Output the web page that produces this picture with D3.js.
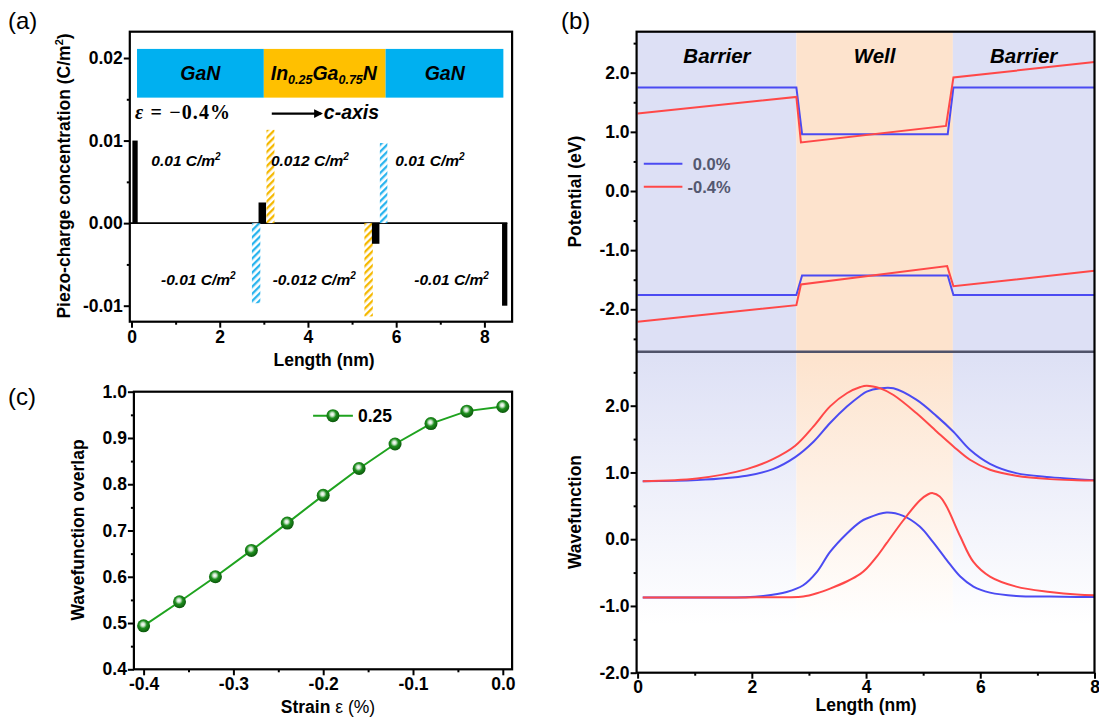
<!DOCTYPE html>
<html>
<head>
<meta charset="utf-8">
<script src="https://cdn.jsdelivr.net/npm/d3@7"></script>
<style>
  body { margin: 0; background: #fff; }
  svg { display: block; font-family: Arial, "Liberation Sans", sans-serif; }
</style>
</head>
<body>
<svg id="fig" width="1099" height="720"></svg>
<script>
// ---- panel (a): piezo charge ----
const layerNames = ["GaN", "InGaN", "GaN"];
const layerEdges = [0.125, 3.0, 5.76, 8.43];
const layerColors = ["#00b0f0", "#ffc000", "#00b0f0"];
const sheetX0 = [0.02, 2.88, 5.45, 8.40];
const sheetX1 = [0.14, 3.05, 5.62, 8.52];
const sheetQ = [0.01, 0.0025, -0.0025, -0.01];
const hatchX0 = [3.06, 5.63, 2.73, 5.28];
const hatchX1 = [3.24, 5.80, 2.92, 5.47];
const hatchQ = [0.0113, 0.0097, -0.0097, -0.0113];
const hatchKind = ["hOrange", "hBlue", "hBlue", "hOrange"];
const chargeText = ["0.01", "0.012", "0.01", "-0.01", "-0.012", "-0.01"];
const chargeTextX = [0.45, 3.16, 5.98, 0.67, 3.2, 6.41];
const chargeTextY = [0.0069, 0.0069, 0.0069, -0.0075, -0.0075, -0.0075];

// ---- panel (b): potential + wavefunctions ----
const wellX = [2.78, 5.52];
const cbX0 = [0, 2.78, 2.88, 5.43, 5.53, 8];
const cbY0 = [1.75, 1.75, 0.96, 0.96, 1.75, 1.75];
const cbX4 = [0, 2.78, 2.86, 5.40, 5.53, 8];
const cbY4 = [1.31, 1.59, 0.82, 1.10, 1.92, 2.18];
const vbX0 = [0, 2.78, 2.88, 5.43, 5.53, 8];
const vbY0 = [-1.76, -1.76, -1.43, -1.43, -1.76, -1.76];
const vbX4 = [0, 2.78, 2.86, 5.42, 5.53, 8];
const vbY4 = [-2.21, -1.93, -1.58, -1.27, -1.61, -1.35];

const waveUpX = [0.09, 1.04, 1.91, 2.37, 2.76, 3.08, 3.37, 3.67, 3.90, 4.01, 4.25, 4.48, 4.88, 5.24, 5.53, 5.82, 6.17, 6.63, 7.22, 7.69, 8.0];
const waveUpBlue = [0.87, 0.885, 0.95, 1.05, 1.23, 1.46, 1.74, 1.99, 2.15, 2.21, 2.26, 2.26, 2.09, 1.84, 1.61, 1.34, 1.13, 0.99, 0.93, 0.9, 0.885];
const waveUpRed = [0.87, 0.91, 1.05, 1.2, 1.40, 1.69, 1.99, 2.19, 2.28, 2.30, 2.26, 2.16, 1.89, 1.61, 1.39, 1.19, 1.04, 0.95, 0.9, 0.885, 0.88];
const waveLowBX = [0.09, 0.92, 1.89, 2.20, 2.61, 2.90, 3.14, 3.37, 3.67, 3.90, 4.01, 4.36, 4.65, 4.94, 5.17, 5.41, 5.65, 5.88, 6.17, 6.63, 7.22, 7.69, 8.0];
const waveLowBlue = [-0.873, -0.873, -0.87, -0.85, -0.79, -0.69, -0.49, -0.19, 0.09, 0.26, 0.31, 0.40, 0.35, 0.19, -0.04, -0.31, -0.56, -0.71, -0.80, -0.85, -0.86, -0.865, -0.865];
const waveLowRX = [0.09, 0.92, 1.89, 2.20, 2.61, 2.90, 3.14, 3.37, 3.67, 3.90, 4.01, 4.18, 4.36, 4.65, 4.94, 5.08, 5.17, 5.29, 5.41, 5.65, 5.88, 6.17, 6.63, 7.22, 7.69, 8.0];
const waveLowRed = [-0.873, -0.873, -0.873, -0.87, -0.87, -0.86, -0.81, -0.74, -0.63, -0.52, -0.44, -0.27, -0.06, 0.28, 0.58, 0.67, 0.69, 0.64, 0.49, 0.04, -0.34, -0.56, -0.71, -0.79, -0.83, -0.84];

// ---- panel (c): overlap vs strain ----
const strain = [-0.40, -0.36, -0.32, -0.28, -0.24, -0.20, -0.16, -0.12, -0.08, -0.04, 0.00];
const overlap = [0.494, 0.546, 0.600, 0.657, 0.716, 0.776, 0.834, 0.887, 0.931, 0.958, 0.968];

const BLUE = "#4b4bf2", RED = "#ff4848", GREEN = "#1fa31f";
const svg = d3.select("#fig");
const defs = svg.append("defs");

function hatch(id, color) {
  const p = defs.append("pattern").attr("id", id)
    .attr("patternUnits", "userSpaceOnUse")
    .attr("width", 5).attr("height", 5)
    .attr("patternTransform", "rotate(45)");
  p.append("rect").attr("width", 5).attr("height", 5).attr("fill", "#fff");
  p.append("rect").attr("width", 2.3).attr("height", 5).attr("fill", color);
}
hatch("hOrange", "#f5b800");
hatch("hBlue", "#2ab4ee");

function fade(id, c) {
  const g = defs.append("linearGradient").attr("id", id)
    .attr("x1", 0).attr("y1", 0).attr("x2", 0).attr("y2", 1);
  g.append("stop").attr("offset", 0).attr("stop-color", c);
  g.append("stop").attr("offset", 0.85).attr("stop-color", "#fff");
  g.append("stop").attr("offset", 1).attr("stop-color", "#fff");
}
fade("fadeBar", "#dde0f5");
fade("fadeWell", "#fde3cd");

const ball = defs.append("radialGradient").attr("id", "ball")
  .attr("cx", "45%").attr("cy", "40%").attr("r", "60%");
ball.append("stop").attr("offset", 0).attr("stop-color", "#ffffff");
ball.append("stop").attr("offset", 0.22).attr("stop-color", "#cfe6cf");
ball.append("stop").attr("offset", 0.5).attr("stop-color", "#1e8e1e");
ball.append("stop").attr("offset", 1).attr("stop-color", "#0a560a");

defs.append("marker").attr("id", "arrow")
  .attr("viewBox", "0 0 10 10").attr("refX", 8).attr("refY", 5)
  .attr("markerWidth", 4).attr("markerHeight", 4).attr("orient", "auto")
  .append("path").attr("d", "M0,0 L10,5 L0,10 z").attr("fill", "#000");

// axis helper: major ticks with labels, minor ticks without
function axis(x, y, make, major, minor, fmt, pad) {
  const g = svg.append("g").attr("transform", `translate(${x},${y})`);
  g.append("g").call(make().tickValues(major).tickSize(6).tickPadding(pad).tickFormat(fmt));
  g.append("g").call(make().tickValues(minor).tickSize(3).tickFormat(""));
  g.selectAll(".domain").remove();
  g.selectAll("line").attr("stroke", "#000").attr("stroke-width", 2);
  g.selectAll("g").attr("font-size", 17.5).attr("font-family", null);
  g.selectAll("text").attr("font-weight", "bold").attr("fill", "#000");
  return g;
}
function frame(x0, y0, x1, y1) {
  svg.append("rect").attr("x", x0).attr("y", y0)
    .attr("width", x1 - x0).attr("height", y1 - y0)
    .attr("fill", "none").attr("stroke", "#000").attr("stroke-width", 2.2);
}
function vtitle(x, y, txt) {
  return svg.append("text").attr("transform", `translate(${x},${y}) rotate(-90)`)
    .attr("text-anchor", "middle").attr("font-size", 17.5).attr("font-weight", "bold").text(txt);
}
function htitle(x, y, txt) {
  return svg.append("text").attr("x", x).attr("y", y)
    .attr("text-anchor", "middle").attr("font-size", 17.5).attr("font-weight", "bold").text(txt);
}
const f1 = d => d.toFixed(1), f2 = d => d.toFixed(2);

// ================= (a) =================
const xa = d3.scaleLinear().domain([0, 8]).range([131.5, 484.4]);
const ya = d3.scaleLinear().domain([-0.01, 0.02]).range([305.7, 58]);
const A = { l: 129.8, r: 512.1, t: 31.7, b: 321.7 };

const bandTop = 0.0211, bandBot = 0.0152;
svg.append("g").selectAll("rect").data(layerNames).join("rect")
  .attr("x", (d, i) => xa(layerEdges[i]))
  .attr("width", (d, i) => xa(layerEdges[i + 1]) - xa(layerEdges[i]))
  .attr("y", ya(bandTop)).attr("height", ya(bandBot) - ya(bandTop))
  .attr("fill", (d, i) => layerColors[i]);
const bandMid = (ya(bandTop) + ya(bandBot)) / 2 + 7;
const bandText = svg.append("g").attr("font-size", 19.5).attr("font-weight", "bold")
  .attr("font-style", "italic").attr("text-anchor", "middle");
bandText.append("text").attr("x", xa(1.56)).attr("y", bandMid).text("GaN");
bandText.append("text").attr("x", xa(7.1)).attr("y", bandMid).text("GaN");
const ing = bandText.append("text").attr("x", xa(4.36)).attr("y", bandMid);
ing.append("tspan").text("In");
ing.append("tspan").attr("font-size", 12.5).attr("dy", 4).text("0.25");
ing.append("tspan").attr("dy", -4).text("Ga");
ing.append("tspan").attr("font-size", 12.5).attr("dy", 4).text("0.75");
ing.append("tspan").attr("dy", -4).text("N");

const eps = svg.append("text").attr("x", xa(0.08)).attr("y", ya(0.01267))
  .attr("font-family", "'Liberation Serif', 'DejaVu Serif', serif").attr("font-size", 20)
  .attr("textLength", 95).attr("lengthAdjust", "spacing");
eps.append("tspan").attr("font-style", "italic").attr("font-weight", "bold").text("ε");
eps.append("tspan").attr("font-weight", "bold").text(" = −0.4%");
svg.append("line").attr("x1", xa(3.18)).attr("x2", xa(4.3))
  .attr("y1", ya(0.01327)).attr("y2", ya(0.01327))
  .attr("stroke", "#000").attr("stroke-width", 2.2).attr("marker-end", "url(#arrow)");
svg.append("text").attr("x", xa(4.36)).attr("y", ya(0.01267))
  .attr("font-size", 19.5).attr("font-weight", "bold").attr("font-style", "italic").text("c-axis");

// zero line
svg.append("line").attr("x1", A.l).attr("x2", xa(8.52))
  .attr("y1", ya(0)).attr("y2", ya(0)).attr("stroke", "#000").attr("stroke-width", 1.8);

svg.append("g").selectAll("rect").data(hatchQ).join("rect")
  .attr("x", (d, i) => xa(hatchX0[i]))
  .attr("width", (d, i) => xa(hatchX1[i]) - xa(hatchX0[i]))
  .attr("y", d => ya(Math.max(0, d)))
  .attr("height", d => Math.abs(ya(d) - ya(0)))
  .attr("fill", (d, i) => `url(#${hatchKind[i]})`);
svg.append("g").selectAll("rect").data(sheetQ).join("rect")
  .attr("x", (d, i) => xa(sheetX0[i]))
  .attr("width", (d, i) => xa(sheetX1[i]) - xa(sheetX0[i]))
  .attr("y", d => ya(Math.max(0, d)))
  .attr("height", d => Math.abs(ya(d) - ya(0)))
  .attr("fill", "#000");

const ct = svg.append("g").attr("font-size", 15.5).attr("font-weight", "bold").attr("font-style", "italic");
chargeText.forEach((t, i) => {
  const tx = ct.append("text").attr("x", xa(chargeTextX[i])).attr("y", ya(chargeTextY[i]));
  tx.append("tspan").text(t + " C/m");
  tx.append("tspan").attr("font-size", 10).attr("dy", -6).text("2");
});

frame(A.l, A.t, A.r, A.b);
axis(A.l, 0, () => d3.axisLeft(ya), [-0.01, 0, 0.01, 0.02], [-0.005, 0.005, 0.015], f2, 1);
axis(0, A.b, () => d3.axisBottom(xa), [0, 2, 4, 6, 8], [1, 3, 5, 7], d3.format("d"), 3);
const ta = vtitle(70, 176, "");
ta.append("tspan").text("Piezo-charge concentration (C/m");
ta.append("tspan").attr("font-size", 11).attr("dy", -7).text("2");
ta.append("tspan").attr("dy", 7).text(")");
htitle(324, 366, "Length (nm)");

// ================= (b) =================
const xb = d3.scaleLinear().domain([0, 8]).range([637.6, 1094.5]);
const ybT = d3.scaleLinear().domain([-2, 2]).range([309.3, 72.7]);
const ybB = d3.scaleLinear().domain([-2, 2]).range([672.7, 405.7]);
const B = { l: 636.6, r: 1094.5, t: 31.7, m: 351.7, b: 672.7 };

const regions = [[0, wellX[0], 0], [wellX[0], wellX[1], 1], [wellX[1], 8, 0]];
svg.append("g").selectAll("rect").data(regions).join("rect")
  .attr("x", d => xb(d[0])).attr("width", d => xb(d[1]) - xb(d[0]))
  .attr("y", B.t).attr("height", B.m - B.t)
  .attr("fill", d => d[2] ? "#fde3cd" : "#dde0f5");
svg.append("g").selectAll("rect").data(regions).join("rect")
  .attr("x", d => xb(d[0])).attr("width", d => xb(d[1]) - xb(d[0]))
  .attr("y", B.m).attr("height", B.b - B.m)
  .attr("fill", d => d[2] ? "url(#fadeWell)" : "url(#fadeBar)");

const lineT = d3.line().x(d => xb(d[0])).y(d => ybT(d[1]));
const lineB = d3.line().x(d => xb(d[0])).y(d => ybB(d[1])).curve(d3.curveCatmullRom.alpha(0.5));
const zip = (xs, ys) => xs.map((x, i) => [x, ys[i]]);
[[cbX0, cbY0, BLUE], [vbX0, vbY0, BLUE], [cbX4, cbY4, RED], [vbX4, vbY4, RED]].forEach(s => {
  svg.append("path").attr("d", lineT(zip(s[0], s[1])))
    .attr("fill", "none").attr("stroke", s[2]).attr("stroke-width", 2);
});
[[waveUpX, waveUpBlue, BLUE], [waveLowBX, waveLowBlue, BLUE], [waveUpX, waveUpRed, RED], [waveLowRX, waveLowRed, RED]].forEach(s => {
  svg.append("path").attr("d", lineB(zip(s[0], s[1])))
    .attr("fill", "none").attr("stroke", s[2]).attr("stroke-width", 2);
});

const lab = svg.append("g").attr("font-size", 20.5).attr("font-weight", "bold")
  .attr("font-style", "italic").attr("text-anchor", "middle");
lab.append("text").attr("x", xb(wellX[0] / 2)).attr("y", 62.5).text("Barrier");
lab.append("text").attr("x", xb((wellX[0] + wellX[1]) / 2)).attr("y", 62.5).text("Well");
lab.append("text").attr("x", xb((wellX[1] + 8) / 2)).attr("y", 62.5).text("Barrier");

const legB = [["0.0%", BLUE, 163.7, 692.8], ["-0.4%", RED, 186.7, 687.6]];
legB.forEach(l => {
  svg.append("line").attr("x1", 643.8).attr("x2", 682.4).attr("y1", l[2]).attr("y2", l[2])
    .attr("stroke", l[1]).attr("stroke-width", 2);
  svg.append("text").attr("x", l[3]).attr("y", l[2] + 6).attr("font-size", 16.5)
    .attr("font-weight", "bold").attr("fill", "#545870").text(l[0]);
});

svg.append("line").attr("x1", B.l).attr("x2", B.r).attr("y1", B.m).attr("y2", B.m)
  .attr("stroke", "#50536a").attr("stroke-width", 2.6);
frame(B.l, B.t, B.r, B.b);
axis(B.l, 0, () => d3.axisLeft(ybT), [-2, -1, 0, 1, 2], [-2.5, -1.5, -0.5, 0.5, 1.5, 2.5], f1, 1);
axis(B.l, 0, () => d3.axisLeft(ybB), [-2, -1, 0, 1, 2], [-1.5, -0.5, 0.5, 1.5, 2.5], f1, 1);
axis(0, B.b, () => d3.axisBottom(xb), [0, 2, 4, 6, 8], [1, 3, 5, 7], d3.format("d"), 2);
vtitle(581, 191.7, "Potential (eV)");
vtitle(581, 512, "Wavefunction");
htitle(866, 711, "Length (nm)");

// ================= (c) =================
const xc = d3.scaleLinear().domain([-0.4, 0]).range([143.6, 502.8]);
const yc = d3.scaleLinear().domain([0.4, 1.0]).range([669.3, 391.7]);
const C = { l: 133.9, r: 512.1, t: 391.7, b: 669.3 };

svg.append("path").attr("d", d3.line().x((d, i) => xc(strain[i])).y(d => yc(d))(overlap))
  .attr("fill", "none").attr("stroke", GREEN).attr("stroke-width", 2);
svg.append("g").selectAll("circle").data(overlap).join("circle")
  .attr("cx", (d, i) => xc(strain[i])).attr("cy", d => yc(d)).attr("r", 6.5)
  .attr("fill", "url(#ball)");

svg.append("line").attr("x1", 313.1).attr("x2", 352.9).attr("y1", 415.7).attr("y2", 415.7)
  .attr("stroke", GREEN).attr("stroke-width", 2);
svg.append("circle").attr("cx", 332.9).attr("cy", 415.7).attr("r", 6.5).attr("fill", "url(#ball)");
svg.append("text").attr("x", 358).attr("y", 422).attr("font-size", 17.5).attr("font-weight", "bold").text("0.25");

frame(C.l, C.t, C.r, C.b);
axis(C.l, 0, () => d3.axisLeft(yc), [0.4, 0.5, 0.6, 0.7, 0.8, 0.9, 1.0], [0.45, 0.55, 0.65, 0.75, 0.85, 0.95], f1, 1);
axis(0, C.b, () => d3.axisBottom(xc), [-0.4, -0.3, -0.2, -0.1, 0], [-0.35, -0.25, -0.15, -0.05], f1, 2);
vtitle(84, 530, "Wavefunction overlap");
const tc = htitle(328, 713, "Strain ");
tc.append("tspan").attr("font-weight", "normal").text("ε (%)");

// panel letters
[["(a)", 8, 29], ["(b)", 561, 29], ["(c)", 8, 405]].forEach(p => {
  svg.append("text").attr("x", p[1]).attr("y", p[2]).attr("font-size", 24).text(p[0]);
});
</script>
</body>
</html>
